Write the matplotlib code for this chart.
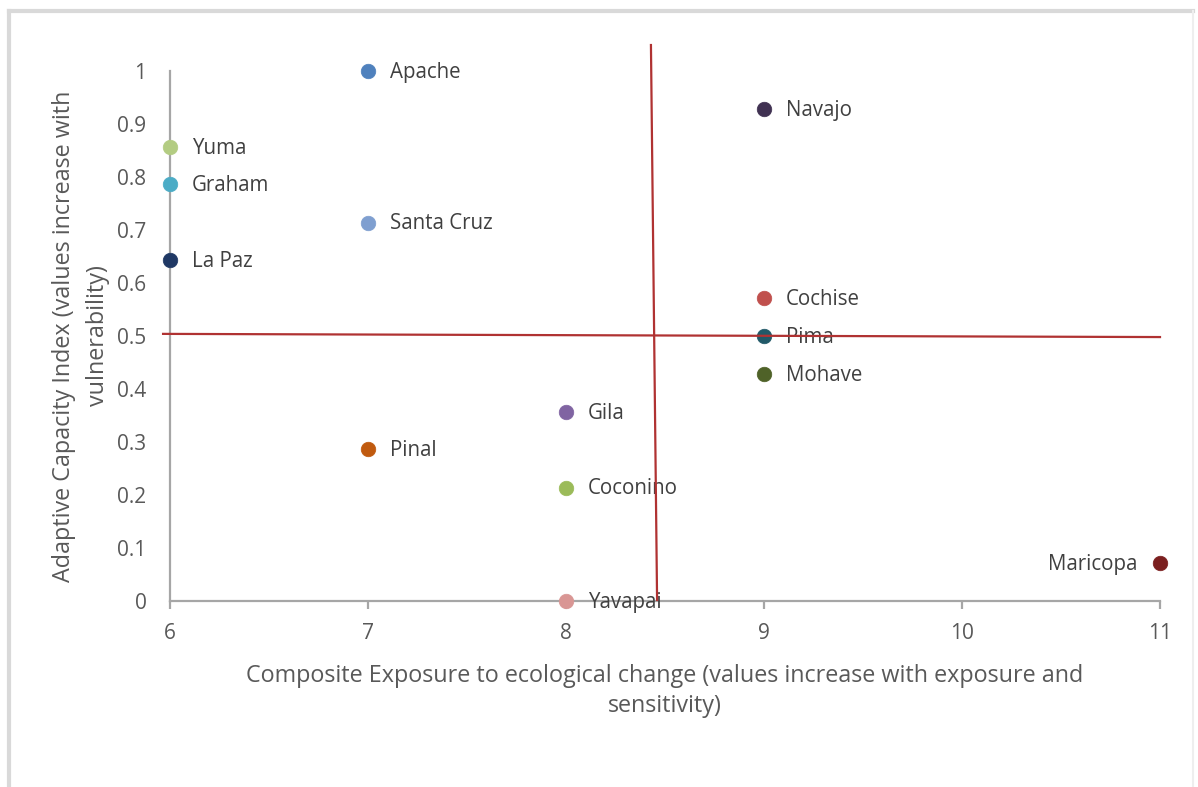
import matplotlib
matplotlib.use("Agg")
import matplotlib.pyplot as plt
from matplotlib.lines import Line2D

plt.rcParams['font.family'] = ['Open Sans', 'DejaVu Sans']

counties = ["Apache", "Navajo", "Yuma", "Graham", "Santa Cruz", "La Paz", "Cochise",
            "Pima", "Mohave", "Gila", "Pinal", "Coconino", "Maricopa", "Yavapai"]
exposure = [7, 9, 6, 6, 7, 6, 9, 9, 9, 8, 7, 8, 11, 8]
capacity = [1.0, 0.929, 0.857, 0.786, 0.714, 0.643, 0.571, 0.5, 0.429, 0.357, 0.286, 0.214, 0.071, 0.0]
colors = ["#4f81bd", "#403152", "#b3cc82", "#4bacc6", "#7f9fd0", "#1f3864", "#c0504d",
          "#215968", "#4f6228", "#8064a2", "#c05a0f", "#9bbb59", "#7b1f1f", "#d99694"]

x_ticks = [6, 7, 8, 9, 10, 11]
y_ticks = [0, 0.1, 0.2, 0.3, 0.4, 0.5, 0.6, 0.7, 0.8, 0.9, 1]
y_tick_labels = ["0", "0.1", "0.2", "0.3", "0.4", "0.5", "0.6", "0.7", "0.8", "0.9", "1"]

# hand-drawn quadrant divider lines (data coords)
vline_x = [8.429, 8.460]
vline_y = [1.049, 0.002]
hline_x = [5.965, 11.0]
hline_y = [0.504, 0.498]

fig = plt.figure(figsize=(11.98, 7.87), dpi=100)
ax = fig.add_axes([170/1198, 1-601/787, (1160-170)/1198, (601-71)/787])

txt = "#404040"
for i, name in enumerate(counties):
    ax.scatter(exposure[i], capacity[i], s=110, color=colors[i], zorder=3, clip_on=False,
               edgecolors=colors[i], linewidths=0.5)
    if name == "Maricopa":
        ax.annotate(name, (exposure[i], capacity[i]), xytext=(-16, -1), textcoords='offset points',
                    ha='right', va='center', fontsize=14.8, color=txt, annotation_clip=False)
    else:
        ax.annotate(name, (exposure[i], capacity[i]), xytext=(16, -1), textcoords='offset points',
                    ha='left', va='center', fontsize=14.8, color=txt, annotation_clip=False)

ax.plot(vline_x, vline_y, color="#b03232", lw=1.6, clip_on=False, zorder=4)
ax.plot(hline_x, hline_y, color="#b03232", lw=1.6, clip_on=False, zorder=4)

ax.set_xlim(6, 11)
ax.set_ylim(0, 1)
ax.set_xticks(x_ticks)
ax.set_xticklabels([str(t) for t in x_ticks])
ax.set_yticks(y_ticks)
ax.set_yticklabels(y_tick_labels)

for s in ['top', 'right']:
    ax.spines[s].set_visible(False)
for s in ['left', 'bottom']:
    ax.spines[s].set_color("#a6a6a6")
    ax.spines[s].set_linewidth(1.6)

ax.tick_params(axis='x', length=6, width=1.6, color="#a6a6a6", labelsize=15, labelcolor="#595959", pad=10)
ax.tick_params(axis='y', length=0, labelsize=15, labelcolor="#595959", pad=17)

ax.set_xlabel("Composite Exposure to ecological change (values increase with exposure and\nsensitivity)",
              fontsize=16.8, color="#595959", labelpad=14, linespacing=1.35)
ax.set_ylabel("Adaptive Capacity Index (values increase with\nvulnerability)",
              fontsize=16.8, color="#595959", labelpad=5, linespacing=1.55)

# outer frame
fc = "#d9d9d9"
fig.add_artist(Line2D([9/1198, 1193/1198], [1-11/787, 1-11/787], color=fc, lw=3))
fig.add_artist(Line2D([9/1198, 9/1198], [1-11/787, 0], color=fc, lw=3))
fig.add_artist(Line2D([1193/1198, 1193/1198], [1-11/787, 0], color="#eeeeee", lw=1.5))

fig.savefig("out.png", dpi=100)
